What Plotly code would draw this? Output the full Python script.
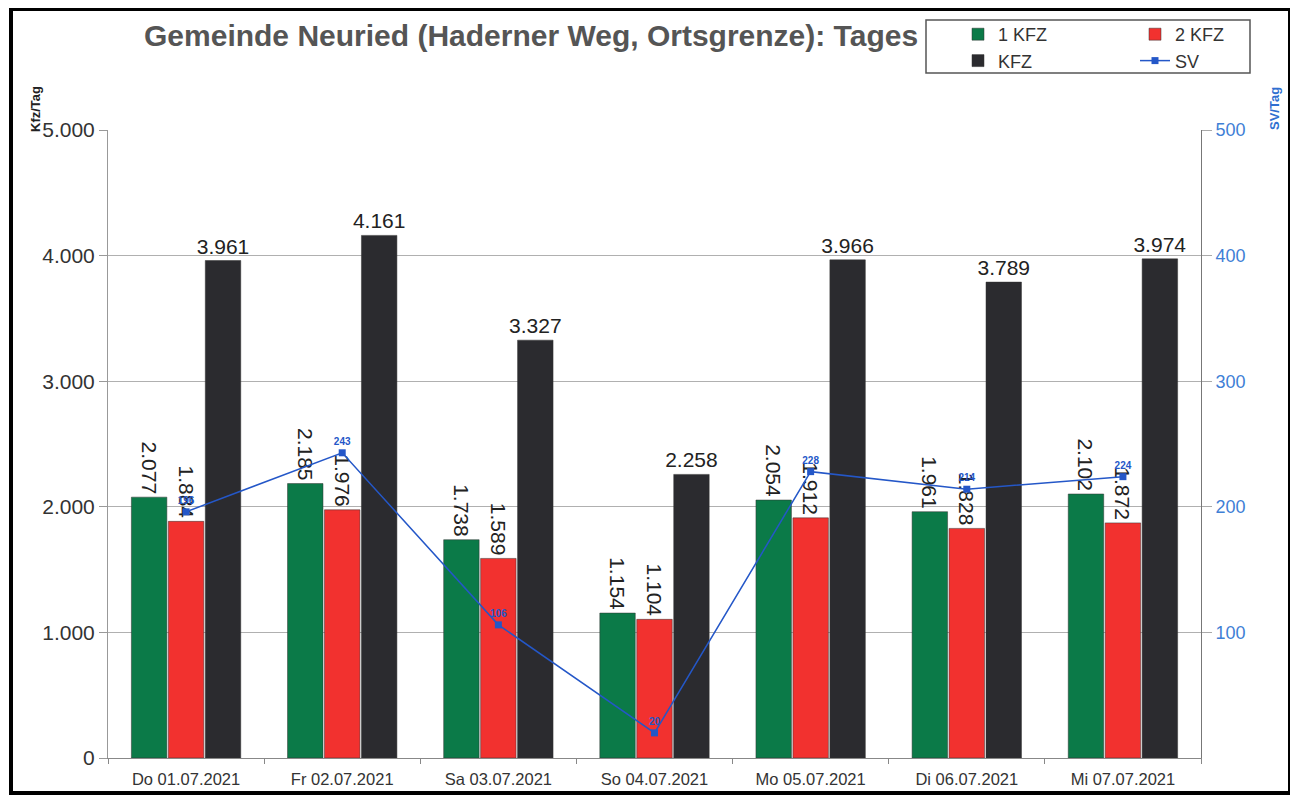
import plotly.graph_objects as go

days = ["Do 01.07.2021", "Fr 02.07.2021", "Sa 03.07.2021", "So 04.07.2021",
        "Mo 05.07.2021", "Di 06.07.2021", "Mi 07.07.2021"]
kfz1 = [2077, 2185, 1738, 1154, 2054, 1961, 2102]
kfz2 = [1884, 1976, 1589, 1104, 1912, 1828, 1872]
kfz = [3961, 4161, 3327, 2258, 3966, 3789, 3974]
sv = [196, 243, 106, 20, 228, 214, 224]

def de(v):
    return f"{v:,}".replace(",", ".")

OFF = 8  # page body margin
W, H = 1298 - OFF, 798 - OFF
# plot area in reference pixel coords
X0, X1, Y0, Y1 = 108, 1201, 130, 758
L, R, T, B = X0 - OFF, W - (X1 - OFF), Y0 - OFF, H - (Y1 - OFF)
PW, PH = X1 - X0, Y1 - Y0

def px(x):
    return (x - X0) / PW

def py(y):
    return (Y1 - y) / PH

FONT = "Liberation Sans, Arial, sans-serif"
GREEN, RED, BLACK, BLUE = "#0b7a48", "#f2312f", "#2b2b2f", "#2457c8"
LBL = dict(size=21, color="#222", family=FONT)

fig = go.Figure()
fig.add_trace(go.Bar(x=days, y=kfz1, name="1 KFZ", marker=dict(color=GREEN, line=dict(color="#333", width=0.5)),
                     text=[de(v) for v in kfz1], textposition="outside", textangle=90,
                     textfont=LBL, cliponaxis=False, constraintext="none", legend="legend"))
fig.add_trace(go.Bar(x=days, y=kfz2, name="2 KFZ", marker=dict(color=RED, line=dict(color="#333", width=0.5)),
                     text=[de(v) for v in kfz2], textposition="outside", textangle=90,
                     textfont=LBL, cliponaxis=False, constraintext="none", legend="legend2"))
fig.add_trace(go.Bar(x=days, y=kfz, name="KFZ", marker=dict(color=BLACK, line=dict(color="#333", width=0.5)),
                     text=[de(v) for v in kfz], textposition="outside", textangle=0,
                     textfont=LBL, cliponaxis=False, constraintext="none", legend="legend"))
fig.add_trace(go.Scatter(x=days, y=sv, name="SV", yaxis="y2", mode="lines+markers+text",
                         line=dict(color=BLUE, width=1.5), marker=dict(symbol="square", size=7, color=BLUE),
                         text=[str(v) for v in sv], textposition="top center",
                         textfont=dict(size=10, color=BLUE, family=FONT, weight="bold"), cliponaxis=False,
                         legend="legend2"))

fig.update_layout(
    width=W, height=H, margin=dict(l=L, r=R, t=T, b=B, autoexpand=False),
    paper_bgcolor="white", plot_bgcolor="white",
    separators=",.",
    barmode="group", bargap=0.29, bargroupgap=0.04,
    font=dict(family=FONT, color="#222"),
    showlegend=True,
    legend=dict(x=px(958), y=py(16), xanchor="left", yanchor="top", bgcolor="rgba(0,0,0,0)",
                font=dict(size=18, color="#333", family=FONT), tracegroupgap=0, itemwidth=30),
    legend2=dict(x=px(1135), y=py(16), xanchor="left", yanchor="top", bgcolor="rgba(0,0,0,0)",
                 font=dict(size=18, color="#333", family=FONT), tracegroupgap=0, itemwidth=30),
    xaxis=dict(showline=True, linecolor="#888", linewidth=1, ticks="outside", tickson="boundaries",
               ticklen=5, tickcolor="#888", ticklabelstandoff=6,
               tickfont=dict(size=16.5, color="#333", family=FONT)),
    yaxis=dict(range=[0, 5000], dtick=1000, tickformat=",.0f", showgrid=True, gridcolor="#b0b0b0",
               gridwidth=1, showline=True, linecolor="#999", ticks="outside", ticklen=8, tickcolor="#999",
               tickfont=dict(size=21, color="#333", family=FONT), zeroline=False),
    yaxis2=dict(range=[0, 500], overlaying="y", side="right", showgrid=False,
                showline=True, linecolor="#777", ticks="outside", ticklen=10, tickcolor="#aaa",
                tickfont=dict(size=18, color="#3f7fd6", family=FONT), zeroline=False,
                tickvals=[100, 200, 300, 400, 500]),
    annotations=[
        dict(text="Gemeinde Neuried (Haderner Weg, Ortsgrenze): Tages", xref="paper", yref="paper",
             x=px(142), y=py(36), xanchor="left", yanchor="middle", showarrow=False,
             font=dict(size=30, color="#555", family=FONT, weight="bold")),
        dict(text="<b>Kfz/Tag</b>", xref="paper", yref="paper", x=px(36), y=py(109),
             xanchor="center", yanchor="middle", textangle=-90, showarrow=False,
             font=dict(size=13, color="#222", family=FONT)),
        dict(text="<b>SV/Tag</b>", xref="paper", yref="paper", x=px(1275), y=py(109),
             xanchor="center", yanchor="middle", textangle=-90, showarrow=False,
             font=dict(size=13, color="#2f6fd0", family=FONT)),
    ],
    shapes=[
        dict(type="rect", xref="paper", yref="paper", x0=px(926), x1=px(1250), y0=py(20), y1=py(73),
             line=dict(color="#555", width=1.5), fillcolor="rgba(0,0,0,0)", layer="above"),
        dict(type="rect", xref="paper", yref="paper", x0=px(11), x1=px(1290), y0=py(OFF + 1), y1=py(793),
             line=dict(color="black", width=4), fillcolor="rgba(0,0,0,0)", layer="above"),
    ],
)

fig.write_html("out.html")
